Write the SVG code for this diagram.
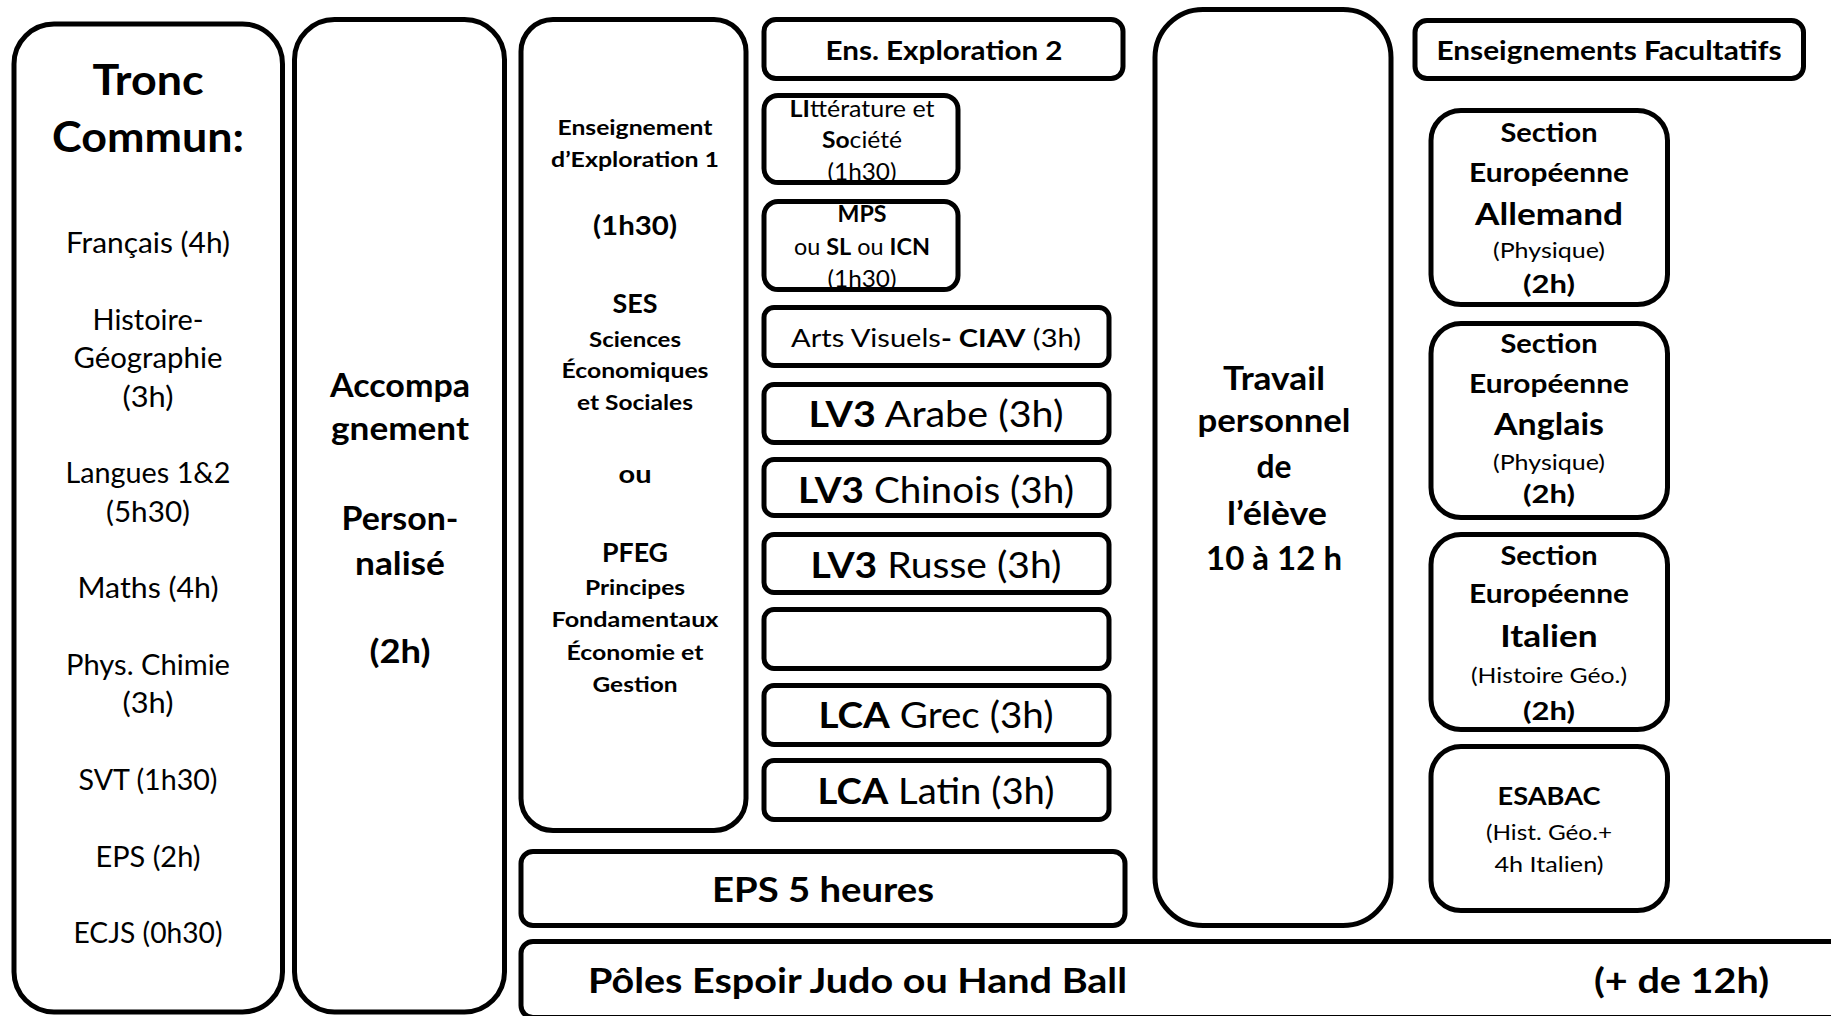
<svg xmlns="http://www.w3.org/2000/svg" width="1831" height="1016" viewBox="0 0 1831 1016">
<style>
.box{fill:#fff;stroke:#000;stroke-width:5}
text{font-family:Lato,"Liberation Sans",sans-serif;fill:#000;text-anchor:middle}
.b{font-weight:700}
.s{text-anchor:start}
</style>
<rect width="1831" height="1016" fill="#fff"/>
<g id="connectors"/>
<g id="tronc-commun">
<rect class="box" x="14" y="24" width="268.5" height="988" rx="40"/>
<g font-size="42" class="b">
<text class="b" x="148" y="95" textLength="111" lengthAdjust="spacingAndGlyphs">Tronc</text>
<text class="b" x="148" y="152" textLength="192" lengthAdjust="spacingAndGlyphs">Commun:</text>
</g>
<g font-size="28">
<text x="148" y="253" textLength="164" lengthAdjust="spacingAndGlyphs">Français (4h)</text>
<text x="148" y="330" textLength="111" lengthAdjust="spacingAndGlyphs">Histoire-</text>
<text x="148" y="368" textLength="149" lengthAdjust="spacingAndGlyphs">Géographie</text>
<text x="148" y="407" textLength="51" lengthAdjust="spacingAndGlyphs">(3h)</text>
<text x="148" y="483" textLength="165" lengthAdjust="spacingAndGlyphs">Langues 1&amp;2</text>
<text x="148" y="522" textLength="84" lengthAdjust="spacingAndGlyphs">(5h30)</text>
<text x="148" y="598" textLength="141" lengthAdjust="spacingAndGlyphs">Maths (4h)</text>
<text x="148" y="675" textLength="164" lengthAdjust="spacingAndGlyphs">Phys. Chimie</text>
<text x="148" y="713" textLength="51" lengthAdjust="spacingAndGlyphs">(3h)</text>
<text x="148" y="790" textLength="139" lengthAdjust="spacingAndGlyphs">SVT (1h30)</text>
<text x="148" y="867" textLength="105" lengthAdjust="spacingAndGlyphs">EPS (2h)</text>
<text x="148" y="943" textLength="149" lengthAdjust="spacingAndGlyphs">ECJS (0h30)</text>
</g>
</g>
<g id="accompagnement">
<rect class="box" x="294.5" y="19.5" width="210" height="992.5" rx="40"/>
<g font-size="32">
<text class="b" x="400" y="397" textLength="140" lengthAdjust="spacingAndGlyphs">Accompa</text>
<text class="b" x="400" y="440" textLength="138" lengthAdjust="spacingAndGlyphs">gnement</text>
<text class="b" x="400" y="530" textLength="117" lengthAdjust="spacingAndGlyphs">Person-</text>
<text class="b" x="400" y="575" textLength="90" lengthAdjust="spacingAndGlyphs">nalisé</text>
<text class="b" x="400" y="663" textLength="61" lengthAdjust="spacingAndGlyphs">(2h)</text>
</g>
</g>
<g id="exploration-1">
<rect class="box" x="521" y="19.5" width="225" height="811" rx="32"/>
<text class="b" x="635" y="135" font-size="21" textLength="155" lengthAdjust="spacingAndGlyphs">Enseignement</text>
<text class="b" x="635" y="167" font-size="21" textLength="168" lengthAdjust="spacingAndGlyphs">d’Exploration 1</text>
<text class="b" x="635" y="235" font-size="26" textLength="84" lengthAdjust="spacingAndGlyphs">(1h30)</text>
<text class="b" x="635" y="313" font-size="26" textLength="45" lengthAdjust="spacingAndGlyphs">SES</text>
<text class="b" x="635" y="347" font-size="21" textLength="92" lengthAdjust="spacingAndGlyphs">Sciences</text>
<text class="b" x="635" y="378" font-size="21" textLength="147" lengthAdjust="spacingAndGlyphs">Économiques</text>
<text class="b" x="635" y="410" font-size="21" textLength="116" lengthAdjust="spacingAndGlyphs">et Sociales</text>
<text class="b" x="635" y="483" font-size="25" textLength="33" lengthAdjust="spacingAndGlyphs">ou</text>
<text class="b" x="635" y="562" font-size="26" textLength="66" lengthAdjust="spacingAndGlyphs">PFEG</text>
<text class="b" x="635" y="595" font-size="21" textLength="100" lengthAdjust="spacingAndGlyphs">Principes</text>
<text class="b" x="635" y="627" font-size="21" textLength="167" lengthAdjust="spacingAndGlyphs">Fondamentaux</text>
<text class="b" x="635" y="660" font-size="21" textLength="137" lengthAdjust="spacingAndGlyphs">Économie et</text>
<text class="b" x="635" y="692" font-size="21" textLength="85" lengthAdjust="spacingAndGlyphs">Gestion</text>
</g>
<g id="exploration-2">
<rect class="box" x="764" y="19.5" width="359" height="59" rx="12"/>
<text class="b" x="944" y="60" font-size="26" textLength="237" lengthAdjust="spacingAndGlyphs">Ens. Exploration 2</text>
</g>
<g id="litterature-societe">
<rect class="box" x="764" y="95.5" width="194" height="87" rx="14"/>
<text x="862" y="117" font-size="23" textLength="145" lengthAdjust="spacingAndGlyphs"><tspan class="b">LI</tspan>ttérature et</text>
<text x="862" y="148" font-size="23" textLength="80" lengthAdjust="spacingAndGlyphs"><tspan class="b">So</tspan>ciété</text>
<text x="862" y="180" font-size="23" textLength="69" lengthAdjust="spacingAndGlyphs">(1h30)</text>
</g>
<g id="mps">
<rect class="box" x="764" y="201.5" width="194" height="88" rx="14"/>
<text class="b" x="862" y="222" font-size="22" textLength="49" lengthAdjust="spacingAndGlyphs">MPS</text>
<text x="862" y="255" font-size="23" textLength="136" lengthAdjust="spacingAndGlyphs">ou <tspan class="b">SL</tspan> ou <tspan class="b">ICN</tspan></text>
<text x="862" y="287" font-size="23" textLength="69" lengthAdjust="spacingAndGlyphs">(1h30)</text>
</g>
<g id="arts-visuels">
<rect class="box" x="764" y="307.5" width="345" height="58" rx="10"/>
<text x="936" y="347" font-size="25.5" textLength="290" lengthAdjust="spacingAndGlyphs">Arts Visuels<tspan class="b">- CIAV</tspan> (3h)</text>
</g>
<g id="lv3-arabe">
<rect class="box" x="764" y="384.5" width="345" height="58" rx="10"/>
<text x="936" y="427" font-size="37" textLength="255" lengthAdjust="spacingAndGlyphs"><tspan class="b">LV3</tspan> Arabe (3h)</text>
</g>
<g id="lv3-chinois">
<rect class="box" x="764" y="459.5" width="345" height="56" rx="10"/>
<text x="936" y="503" font-size="37" textLength="276" lengthAdjust="spacingAndGlyphs"><tspan class="b">LV3</tspan> Chinois (3h)</text>
</g>
<g id="lv3-russe">
<rect class="box" x="764" y="534.5" width="345" height="58" rx="10"/>
<text x="936" y="578" font-size="37" textLength="251" lengthAdjust="spacingAndGlyphs"><tspan class="b">LV3</tspan> Russe (3h)</text>
</g>
<g id="empty-box">
<rect class="box" x="764" y="609.5" width="345" height="59" rx="10"/>
</g>
<g id="lca-grec">
<rect class="box" x="764" y="685.5" width="345" height="59" rx="10"/>
<text x="936" y="728" font-size="37" textLength="235" lengthAdjust="spacingAndGlyphs"><tspan class="b">LCA</tspan> Grec (3h)</text>
</g>
<g id="lca-latin">
<rect class="box" x="764" y="760.5" width="345" height="59" rx="10"/>
<text x="936" y="804" font-size="37" textLength="237" lengthAdjust="spacingAndGlyphs"><tspan class="b">LCA</tspan> Latin (3h)</text>
</g>
<g id="eps-5h">
<rect class="box" x="521" y="851.5" width="604" height="74" rx="12"/>
<text class="b" x="823" y="902" font-size="35" textLength="222" lengthAdjust="spacingAndGlyphs">EPS 5 heures</text>
</g>
<g id="poles-espoir">
<rect class="box" x="521" y="941.5" width="1330" height="76" rx="12"/>
<text class="b s" x="588" y="993" font-size="35" textLength="539" lengthAdjust="spacingAndGlyphs">Pôles Espoir Judo ou Hand Ball</text>
<text class="b s" x="1594" y="993" font-size="34" textLength="175" lengthAdjust="spacingAndGlyphs">(+ de 12h)</text>
</g>
<g id="travail-personnel">
<rect class="box" x="1155" y="9.5" width="236" height="916" rx="48"/>
<g font-size="32.5">
<text class="b" x="1274" y="390" textLength="102" lengthAdjust="spacingAndGlyphs">Travail</text>
<text class="b" x="1274" y="432" textLength="153" lengthAdjust="spacingAndGlyphs">personnel</text>
<text class="b" x="1274" y="478" textLength="35" lengthAdjust="spacingAndGlyphs">de</text>
<text class="b" x="1277" y="525" textLength="100" lengthAdjust="spacingAndGlyphs">l’élève</text>
<text class="b" x="1274" y="570" textLength="136" lengthAdjust="spacingAndGlyphs">10 à 12 h</text>
</g>
</g>
<g id="facultatifs">
<rect class="box" x="1415" y="20.5" width="388.5" height="58" rx="12"/>
<text class="b" x="1609" y="60" font-size="26" textLength="345" lengthAdjust="spacingAndGlyphs">Enseignements Facultatifs</text>
</g>
<g id="section-allemand">
<rect class="box" x="1431" y="110.5" width="236.5" height="194" rx="30"/>
<text class="b" x="1549" y="142" font-size="26" textLength="97" lengthAdjust="spacingAndGlyphs">Section</text>
<text class="b" x="1549" y="182" font-size="26" textLength="160" lengthAdjust="spacingAndGlyphs">Européenne</text>
<text class="b" x="1549" y="225" font-size="30" textLength="148" lengthAdjust="spacingAndGlyphs">Allemand</text>
<text x="1549" y="258" font-size="21" textLength="112" lengthAdjust="spacingAndGlyphs">(Physique)</text>
<text class="b" x="1549" y="293" font-size="25" textLength="52" lengthAdjust="spacingAndGlyphs">(2h)</text>
</g>
<g id="section-anglais">
<rect class="box" x="1431" y="323.5" width="236.5" height="194" rx="30"/>
<text class="b" x="1549" y="353" font-size="26" textLength="97" lengthAdjust="spacingAndGlyphs">Section</text>
<text class="b" x="1549" y="393" font-size="26" textLength="160" lengthAdjust="spacingAndGlyphs">Européenne</text>
<text class="b" x="1549" y="435" font-size="30" textLength="110" lengthAdjust="spacingAndGlyphs">Anglais</text>
<text x="1549" y="470" font-size="21" textLength="112" lengthAdjust="spacingAndGlyphs">(Physique)</text>
<text class="b" x="1549" y="503" font-size="25" textLength="52" lengthAdjust="spacingAndGlyphs">(2h)</text>
</g>
<g id="section-italien">
<rect class="box" x="1431" y="534.5" width="236.5" height="195" rx="30"/>
<text class="b" x="1549" y="565" font-size="26" textLength="97" lengthAdjust="spacingAndGlyphs">Section</text>
<text class="b" x="1549" y="603" font-size="26" textLength="160" lengthAdjust="spacingAndGlyphs">Européenne</text>
<text class="b" x="1549" y="647" font-size="30" textLength="97.5" lengthAdjust="spacingAndGlyphs">Italien</text>
<text x="1549" y="683" font-size="21" textLength="156" lengthAdjust="spacingAndGlyphs">(Histoire Géo.)</text>
<text class="b" x="1549" y="720" font-size="25" textLength="52" lengthAdjust="spacingAndGlyphs">(2h)</text>
</g>
<g id="esabac">
<rect class="box" x="1431" y="746.5" width="236.5" height="164" rx="30"/>
<text class="b" x="1549" y="805" font-size="25" textLength="103" lengthAdjust="spacingAndGlyphs">ESABAC</text>
<text x="1549" y="840" font-size="21" textLength="126" lengthAdjust="spacingAndGlyphs">(Hist. Géo.+</text>
<text x="1549" y="872" font-size="21" textLength="109" lengthAdjust="spacingAndGlyphs">4h Italien)</text>
</g>
</svg>
